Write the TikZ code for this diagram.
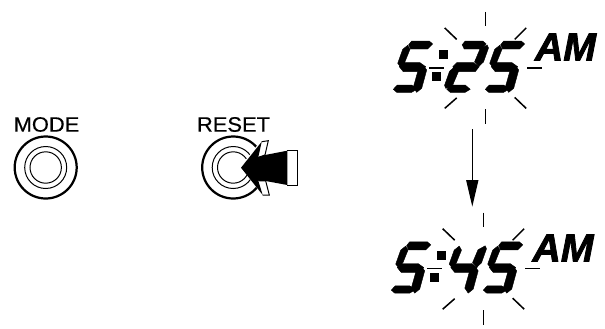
\documentclass[tikz,border=0pt]{standalone}
\usepackage{fontspec}
\setmainfont{Liberation Sans}
\newfontfamily\labelfont[FakeBold=0.4,FakeStretch=1.05]{Liberation Sans}
\newfontfamily\amfont[BoldItalicFeatures={FakeBold=2}]{Liberation Sans}
\usetikzlibrary{arrows.meta}

% LCD segments, one digit
\newcommand{\segT}{(11.7,11)--(29.3,11)--(32.7,14)--(27.7,19)--(10.7,19)--(8.7,14.7)--cycle}
\newcommand{\segUL}{(7.7,15.3)--(10,19.3)--(5,31.7)--(0,36.2)--(-2.3,33.3)--(2.7,19.3)--cycle}
\newcommand{\segUR}{(33.7,15)--(35,18)--(30,32)--(25.7,36)--(21,32)--(26.5,19)--cycle}
\newcommand{\segM}{(3.3,32.7)--(20,32.7)--(25.7,36.7)--(21.7,41.7)--(3.3,41.7)--(-0.7,36.7)--cycle}
\newcommand{\segLL}{(-7.7,58.4)--(-9,55.4)--(-4,41.4)--(0.3,37.4)--(5,41.4)--(-0.5,54.4)--cycle}
\newcommand{\segLR}{(25,37.7)--(26.7,40)--(21.7,58.3)--(16.7,62.3)--(13.3,57.3)--(17.7,41.7)--cycle}
\newcommand{\segB}{(-2.7,55)--(11.7,55)--(16.7,59.3)--(11.7,62.3)--(-3.3,62.3)--(-6.7,59.3)--cycle}

\tikzset{
  lcd/.style={fill=black, draw=black, line width=0.35pt},
  ray/.style={line width=1.3pt},
  ring/.style={draw, line width=0.85pt},
  rim/.style={draw, line width=1.9pt},
  btnlabel/.style={inner sep=0pt, font=\labelfont\fontsize{17.8}{18}\selectfont},
  ampm/.style={inner sep=0pt, font=\amfont\fontsize{33.5}{34}\selectfont\bfseries\itshape},
}

% the time readout, with its rays
\newcommand{\readout}[3]{%
  \begin{scope}[shift={(#1,#2)}]
    \path[lcd] \segT \segUL \segM \segLR \segB;
    \fill[lcd] (39.3,20.7) rectangle (47.3,28.7);
    \fill[lcd] (32,42.7) rectangle (40,50.7);
    \begin{scope}[shift={(53.5,0)}]
      #3
    \end{scope}
    \begin{scope}[shift={(92,0)}]
      \path[lcd] \segT \segUL \segM \segLR \segB;
    \end{scope}
    % rays
    \begin{scope}[shift={(85.7,37.9)}]
      \draw[ray] (0,-56) -- (0,-42);
      \draw[ray] (0,41.5) -- (0,56.5);
      \draw[ray] (-56.7,0) -- (-41.7,0);
      \draw[ray] (41.7,0) -- (56.7,0);
      \draw[ray] (-41,-40) -- (-29,-28.5);
      \draw[ray] (40.5,-40) -- (29,-28.5);
      \draw[ray] (-41,40.5) -- (-29,30);
      \draw[ray] (40.5,40.5) -- (29,29.5);
    \end{scope}
  \end{scope}}

\begin{document}
\begin{tikzpicture}[x=0.03cm,y=-0.03cm]
  \useasboundingbox (0,0) rectangle (605,328);

  % MODE button
  \node[btnlabel] (modelabel) at (46.5,124.5) {MODE};
  \coordinate (modebtn) at (45.7,167.5);
  \draw[rim] (modebtn) circle (31);
  \draw[ring] (modebtn) circle (21);
  \draw[ring] (modebtn) circle (15.7);

  % RESET button
  \node[btnlabel] (resetlabel) at (233.5,124.5) {RESET};
  \coordinate (resetbtn) at (233.2,167.5);
  \draw[rim] (resetbtn) circle (31);
  \draw[ring] (resetbtn) circle (21);
  \draw[ring] (resetbtn) circle (15.7);

  % finger arrow on RESET
  \fill[white] (241,167.7) -- (261.7,141.7) -- (268.3,140.7) -- (265,155) -- (287.3,150.7)
    -- (287.3,185) -- (265.7,181) -- (269.3,195) -- (262.7,195) -- cycle;
  \draw[white, line width=2pt] (241,167.7) -- (261.7,141.7) -- (268.3,140.7) -- (265,155)
    (265.7,181) -- (269.3,195) -- (262.7,195) -- cycle;
  \draw[line width=0.85pt] (261.7,141.7) -- (268.3,140.7) -- (265,155) -- (258.3,157.3);
  \draw[line width=0.85pt] (258.3,180.7) -- (265.7,181) -- (269.3,195) -- (262.7,195);
  \fill (241,167.7) -- (261.7,141.7) -- (258.3,157.3) -- (265,155) -- (287.3,150.7)
    -- (287.3,185) -- (265.7,181) -- (258.3,180.7) -- (262.7,195) -- cycle;
  \draw[line width=0.85pt] (287.3,150.7) -- (297.7,150.7) -- (297.7,185) -- (287.3,185);

  % readouts
  \readout{400}{30}{\path[lcd] \segT \segUR \segM \segLL \segB;}
  \readout{398}{230.8}{\path[lcd] \segUL \segUR \segM \segLR;}
  \node[ampm] (amtop) at (565.5,47) {AM};
  \node[ampm] (ambottom) at (563,248) {AM};

  % arrow between readouts
  \coordinate (arrowtop) at (472.3,129.3);
  \coordinate (arrowtip) at (472.3,206.7);
  \draw[-{Triangle[length=0.8cm,width=0.36cm]}, line width=1.3pt] (arrowtop) -- (arrowtip);
\end{tikzpicture}
\end{document}
